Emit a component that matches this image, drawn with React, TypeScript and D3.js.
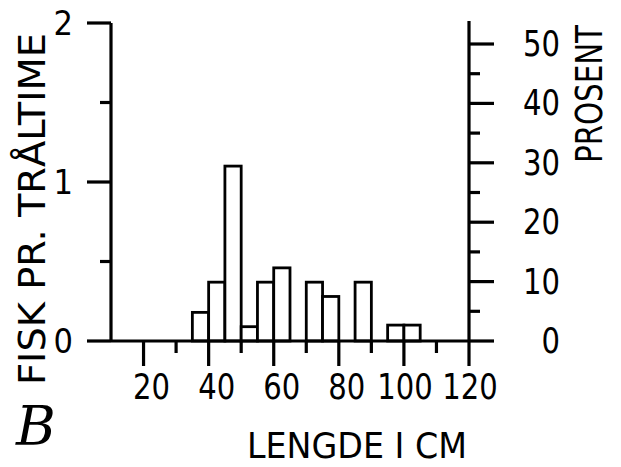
import React from "react";
import * as d3 from "d3";

// Length classes (lower bound, cm) – each class is 5 cm wide
const binStarts = [35, 40, 45, 50, 55, 60, 70, 75, 85, 95, 100];
// Fish per trawl hour
const fishPerHour = [0.18, 0.37, 1.1, 0.09, 0.37, 0.46, 0.37, 0.28, 0.37, 0.1, 0.1];
const binWidth = 5;

const xMajorTicks = [20, 40, 60, 80, 100, 120];
const xMinorTicks = [30, 50, 70, 90, 110];
const yMajorTicks = [0, 1, 2];
const yMinorTicks = [0.5, 1.5];
const pctMajorTicks = [0, 10, 20, 30, 40, 50];
const pctMinorTicks = [5, 15, 25, 35, 45];

const xTitle = "LENGDE I CM";
const yTitle = "FISK PR. TRÅLTIME";
const pctTitle = "PROSENT";
const panelLabel = "B";

const W = 621;
const H = 467;
const FONT = "'DejaVu Sans Condensed', 'DejaVu Sans', sans-serif";
const CHAR_W = 18.5;

export default function App() {
  const x = d3.scaleLinear().domain([10, 120]).range([111, 469]);
  const y = d3.scaleLinear().domain([0, 2]).range([341, 23]);
  const yp = d3.scaleLinear().domain([0, 50]).range([341, 44]);

  const leftX = x(10);
  const rightX = x(120);
  const base = y(0);
  const top = y(2);
  const sw = 3.2;

  return (
    <svg
      width={W}
      height={H}
      viewBox={`0 0 ${W} ${H}`}
      style={{ position: "absolute", left: 0, top: 0, background: "#fff" }}
    >
      <rect x={0} y={0} width={W} height={H} fill="#fff" />
      {/* bars */}
      {binStarts.map((b, i) => (
        <rect
          key={b}
          x={x(b)}
          y={y(fishPerHour[i])}
          width={x(b + binWidth) - x(b)}
          height={base - y(fishPerHour[i])}
          fill="#fff"
          stroke="#000"
          strokeWidth={2.8}
        />
      ))}
      {/* left axis */}
      <line x1={leftX} x2={leftX} y1={top} y2={base} stroke="#000" strokeWidth={sw} />
      {yMajorTicks.map((t) => (
        <line key={t} x1={leftX - 24} x2={leftX} y1={y(t)} y2={y(t)} stroke="#000" strokeWidth={sw} />
      ))}
      {yMinorTicks.map((t) => (
        <line key={t} x1={leftX - 11} x2={leftX} y1={y(t)} y2={y(t)} stroke="#000" strokeWidth={sw} />
      ))}
      {yMajorTicks.map((t) => (
        <text
          key={t}
          x={73}
          y={y(t)}
          textAnchor="end"
          dominantBaseline="central"
          fontFamily={FONT}
          fontSize={34}
          fill="#000"
        >
          {t}
        </text>
      ))}
      {/* baseline */}
      <line x1={leftX} x2={rightX} y1={base} y2={base} stroke="#000" strokeWidth={sw} />
      {/* x ticks */}
      {xMajorTicks.map((t) => (
        <line key={t} x1={x(t)} x2={x(t)} y1={base} y2={base + 25} stroke="#000" strokeWidth={sw} />
      ))}
      {xMinorTicks.map((t) => (
        <line key={t} x1={x(t)} x2={x(t)} y1={base} y2={base + 12} stroke="#000" strokeWidth={sw} />
      ))}
      {xMajorTicks.map((t) => {
        const s = String(t);
        return (
          <text
            key={t}
            x={x(t) + (s.length === 2 ? 8 : 1) - (s.length * CHAR_W) / 2}
            y={399}
            textLength={s.length * CHAR_W}
            lengthAdjust="spacingAndGlyphs"
            fontFamily={FONT}
            fontSize={36}
            fill="#000"
          >
            {s}
          </text>
        );
      })}
      {/* right axis */}
      <line x1={rightX} x2={rightX} y1={top - 2} y2={base} stroke="#000" strokeWidth={sw} />
      {pctMajorTicks.map((t) => (
        <line key={t} x1={rightX} x2={rightX + 25} y1={yp(t)} y2={yp(t)} stroke="#000" strokeWidth={sw} />
      ))}
      {pctMinorTicks.map((t) => (
        <line key={t} x1={rightX} x2={rightX + 11} y1={yp(t)} y2={yp(t)} stroke="#000" strokeWidth={sw} />
      ))}
      {pctMajorTicks.map((t) => {
        const s = String(t);
        return (
          <text
            key={t}
            x={560 - s.length * CHAR_W}
            y={yp(t)}
            textLength={s.length * CHAR_W}
            lengthAdjust="spacingAndGlyphs"
            dominantBaseline="central"
            fontFamily={FONT}
            fontSize={35}
            fill="#000"
          >
            {s}
          </text>
        );
      })}
      {/* titles */}
      <text
        x={247}
        y={458}
        textLength={220}
        lengthAdjust="spacingAndGlyphs"
        fontFamily={FONT}
        fontSize={35}
        fill="#000"
      >
        {xTitle}
      </text>
      <text
        transform={`translate(45,385) rotate(-90)`}
        textLength={352}
        lengthAdjust="spacingAndGlyphs"
        fontFamily={FONT}
        fontSize={37}
        fill="#000"
      >
        {yTitle}
      </text>
      <text
        transform={`translate(602,163) rotate(-90)`}
        textLength={138}
        lengthAdjust="spacingAndGlyphs"
        fontFamily={FONT}
        fontSize={38}
        fill="#000"
      >
        {pctTitle}
      </text>
      <text
        x={16}
        y={445}
        fontFamily="'DejaVu Serif', serif"
        fontStyle="italic"
        fontSize={54}
        fill="#000"
      >
        {panelLabel}
      </text>
    </svg>
  );
}
